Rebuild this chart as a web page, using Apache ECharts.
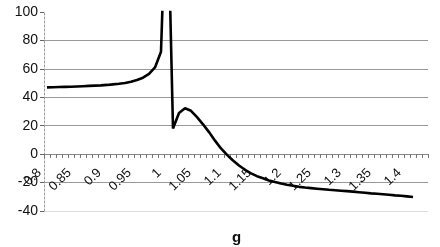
<!DOCTYPE html>
<html><head><meta charset="utf-8">
<script src="https://cdn.jsdelivr.net/npm/echarts@6/dist/echarts.min.js"></script>
<style>html,body{margin:0;padding:0;background:#fff}#c{width:440px;height:247px}</style>
</head><body><div id="c"></div>
<script>
// categories g = 0.80 .. 1.43 step 0.01
var categories = ["0.8","0.81","0.82","0.83","0.84","0.85","0.86","0.87","0.88","0.89",
  "0.9","0.91","0.92","0.93","0.94","0.95","0.96","0.97","0.98","0.99",
  "1","1.01","1.02","1.03","1.04","1.05","1.06","1.07","1.08","1.09",
  "1.1","1.11","1.12","1.13","1.14","1.15","1.16","1.17","1.18","1.19",
  "1.2","1.21","1.22","1.23","1.24","1.25","1.26","1.27","1.28","1.29",
  "1.3","1.31","1.32","1.33","1.34","1.35","1.36","1.37","1.38","1.39",
  "1.4","1.41","1.42","1.43"];
var values = [47,47.1,47.2,47.3,47.4,47.6,47.8,48.0,48.2,48.4,
  48.7,49.1,49.5,50.1,51.0,52.2,53.8,56.5,61,72,
  200,18,29,32.3,30.5,26,21,15.5,9.5,4,
  -0.5,-4.5,-8,-11,-13.5,-15.5,-17,-18.5,-19.6,-20.6,
  -21.5,-22.3,-23,-23.5,-23.9,-24.3,-24.7,-25.1,-25.4,-25.7,
  -26,-26.4,-26.8,-27.2,-27.6,-27.9,-28.2,-28.6,-29,-29.3,
  -29.7,-30.2,null,null];
var yTicks = {min:-40, max:100, step:20};
var xTitle = "g";

var gridTop = 12, gridBottom = 36, chartH = 247;
var plotH = chartH - gridTop - gridBottom;
// pixel distance from bottom of grid up to value 0
var zeroOffset = plotH * (0 - yTicks.min) / (yTicks.max - yTicks.min);

var chart = echarts.init(document.getElementById('c'));
chart.setOption({
  animation:false,
  textStyle:{fontFamily:'"Liberation Sans", Arial, sans-serif'},
  grid:{left:44, right:12, top:gridTop, bottom:gridBottom},
  xAxis:{
    type:'category', data:categories, boundaryGap:true,
    offset: -Math.round(zeroOffset),
    axisLine:{onZero:false, lineStyle:{color:'#888', width:1}},
    axisTick:{show:true, interval:0, length:4, lineStyle:{color:'#777'}},
    axisLabel:{interval:4, rotate:45, fontSize:13, color:'#111', margin:9,
      padding:[0,11,0,0],
      fontFamily:'"Liberation Sans", Arial, sans-serif'},
    splitLine:{show:false}
  },
  yAxis:{
    type:'value', min:yTicks.min, max:yTicks.max, interval:yTicks.step,
    axisLine:{show:true, lineStyle:{color:'#999', type:[2,2], width:1}},
    axisTick:{show:true, length:4, lineStyle:{color:'#666'}},
    axisLabel:{fontSize:14, color:'#111', margin:6,
      fontFamily:'"Liberation Sans", Arial, sans-serif'},
    splitLine:{show:true, showMaxLine:false,
      lineStyle:{color:['#ddd','#999','#999','#999','#999','#999','#999','#fff'], width:1}}
  },
  graphic:[{type:'text', left:232, top:230,
    style:{text:xTitle, font:'bold 15px "Liberation Sans", Arial, sans-serif', fill:'#111'}}],
  series:[{type:'line', data:values, showSymbol:false, symbol:'none', smooth:false,
    clip:true, lineStyle:{color:'#000', width:2.6}}]
});
</script></body></html>
